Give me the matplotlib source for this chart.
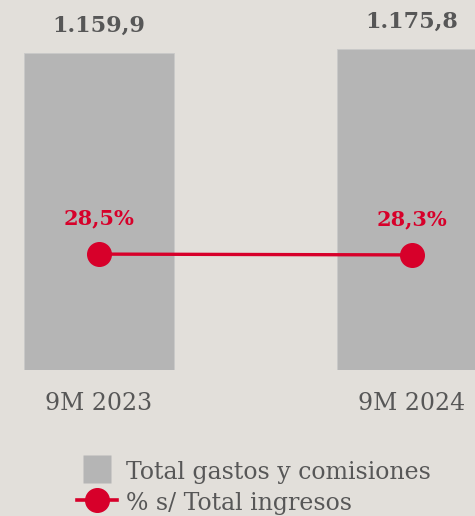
import matplotlib.pyplot as plt
from matplotlib.lines import Line2D
import numpy as np

categories = ["9M 2023", "9M 2024"]
gastos = [1159.9, 1175.8]
gastos_labels = ["1.159,9", "1.175,8"]
pct = [28.5, 28.3]
pct_labels = ["28,5%", "28,3%"]

BG = "#e2dfda"
BAR = "#b5b5b5"
RED = "#d7002a"
TXT = "#575757"
SERIF = ["DejaVu Serif"]

fig = plt.figure(figsize=(4.75, 5.16), dpi=100, facecolor=BG)
ax = fig.add_axes([0, 0.283, 1, 0.717])
ax.set_facecolor(BG)
x = np.arange(len(categories))
ax.bar(x, gastos, width=0.479, color=BAR, edgecolor="#c9c9c9", linewidth=0.6)
for xi, v, lab in zip(x, gastos, gastos_labels):
    ax.text(xi, v + 100, lab, ha="center", va="center", fontsize=16,
            fontweight="bold", color=TXT, family=SERIF)
ax.set_xlim(-0.316, 1.201)
ax.set_ylim(0, 1354)
ax.axis("off")

ax2 = ax.twinx()
ax2.plot(x, pct, color=RED, lw=2.4, marker="o", markersize=17)
for xi, v, lab in zip(x, pct, pct_labels):
    ax2.text(xi, v + 8.8, lab, ha="center", va="center", fontsize=15,
             fontweight="bold", color=RED, family=SERIF)
ax2.set_ylim(0, 91)
ax2.set_xlim(-0.316, 1.201)
ax2.axis("off")

for xi, c in zip(x, categories):
    ax.text(xi, -121, c, ha="center", va="center", fontsize=17, color=TXT,
            family=SERIF, clip_on=False)

handles = [Line2D([], [], color="none", marker="s", markersize=19.5,
                  markerfacecolor=BAR, markeredgecolor="none"),
           Line2D([], [], color=RED, lw=2.6, marker="o", markersize=17)]
fig.legend(handles, ["Total gastos y comisiones", "% s/ Total ingresos"],
           loc="upper left", bbox_to_anchor=(0.162, 0.110), frameon=False,
           prop={"family": SERIF, "size": 17}, labelcolor=TXT,
           handlelength=1.7, handleheight=1.15, handletextpad=0.38,
           labelspacing=0.26, borderpad=0, borderaxespad=0)

fig.savefig("out.png", dpi=100, facecolor=BG)
